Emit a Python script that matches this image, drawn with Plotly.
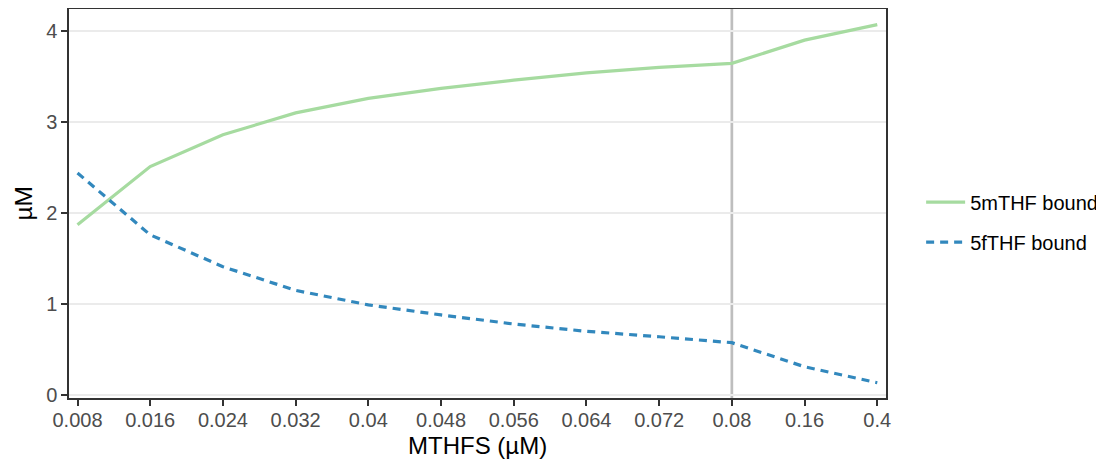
import plotly.graph_objects as go

mthfs = ["0.008", "0.016", "0.024", "0.032", "0.04", "0.048", "0.056",
         "0.064", "0.072", "0.08", "0.16", "0.4"]
m5thf_bound = [1.87, 2.51, 2.86, 3.10, 3.26, 3.37, 3.46, 3.54, 3.60, 3.645, 3.90, 4.07]
f5thf_bound = [2.44, 1.76, 1.41, 1.15, 0.99, 0.88, 0.78, 0.70, 0.64, 0.575, 0.31, 0.135]
marker_x = "0.08"
y_ticks = [0, 1, 2, 3, 4]

FONT = "Liberation Sans, Arial, sans-serif"

fig = go.Figure()
fig.add_trace(go.Scatter(
    x=mthfs, y=m5thf_bound, mode="lines", name="5mTHF bound",
    line=dict(color="#A6DBA0", width=3.2), legendgroup="a"))
fig.add_trace(go.Scatter(
    x=mthfs, y=f5thf_bound, mode="lines", name="5fTHF bound",
    line=dict(color="#3288BD", width=3.2, dash="8px,6px"), legendgroup="b"))

mx = mthfs.index(marker_x)
fig.add_shape(type="line", xref="x", yref="paper", x0=mx, x1=mx,
              y0=0, y1=1, line=dict(color="#BEBEBE", width=2.7), layer="between")

fig.add_annotation(text="MTHFS (µM)", xref="paper", yref="paper", x=0.5, y=-0.121,
                   xanchor="center", yanchor="middle", showarrow=False,
                   font=dict(size=24, color="#000000"))
fig.add_annotation(text="µM", xref="paper", yref="paper", x=-0.0563, y=0.5,
                   xanchor="center", yanchor="middle", showarrow=False, textangle=-90,
                   font=dict(size=24.5, color="#000000"))

# page body has an 8px margin, so the figure is drawn 8px in from the top-left
fig.update_layout(
    width=1096, height=451,
    margin=dict(l=61, r=218, t=1, b=61, autoexpand=False),
    plot_bgcolor="white", paper_bgcolor="white",
    font=dict(family=FONT, color="#000000"),
    legend=dict(x=1.043, xanchor="left", y=0.452, yanchor="middle",
                font=dict(size=20, color="#000000"), itemwidth=39,
                tracegroupgap=11, bgcolor="rgba(0,0,0,0)"),
    xaxis=dict(
        type="category", range=[-0.117, 11.12], automargin=False,
        showgrid=False, zeroline=False,
        showline=True, linecolor="#333333", linewidth=1.5, mirror=True,
        ticks="outside", ticklen=6, tickwidth=1.5, tickcolor="#333333",
        ticklabelstandoff=-3,
        tickfont=dict(size=20, color="#4D4D4D"),
    ),
    yaxis=dict(
        range=[-0.033, 4.242], tickvals=y_ticks, automargin=False,
        showgrid=True, gridcolor="#EBEBEB", gridwidth=1.5, zeroline=False,
        showline=True, linecolor="#333333", linewidth=1.5, mirror=True,
        ticks="outside", ticklen=6, tickwidth=1.5, tickcolor="#333333",
        tickfont=dict(size=20, color="#4D4D4D"),
    ),
)

fig.write_html("out.html")
